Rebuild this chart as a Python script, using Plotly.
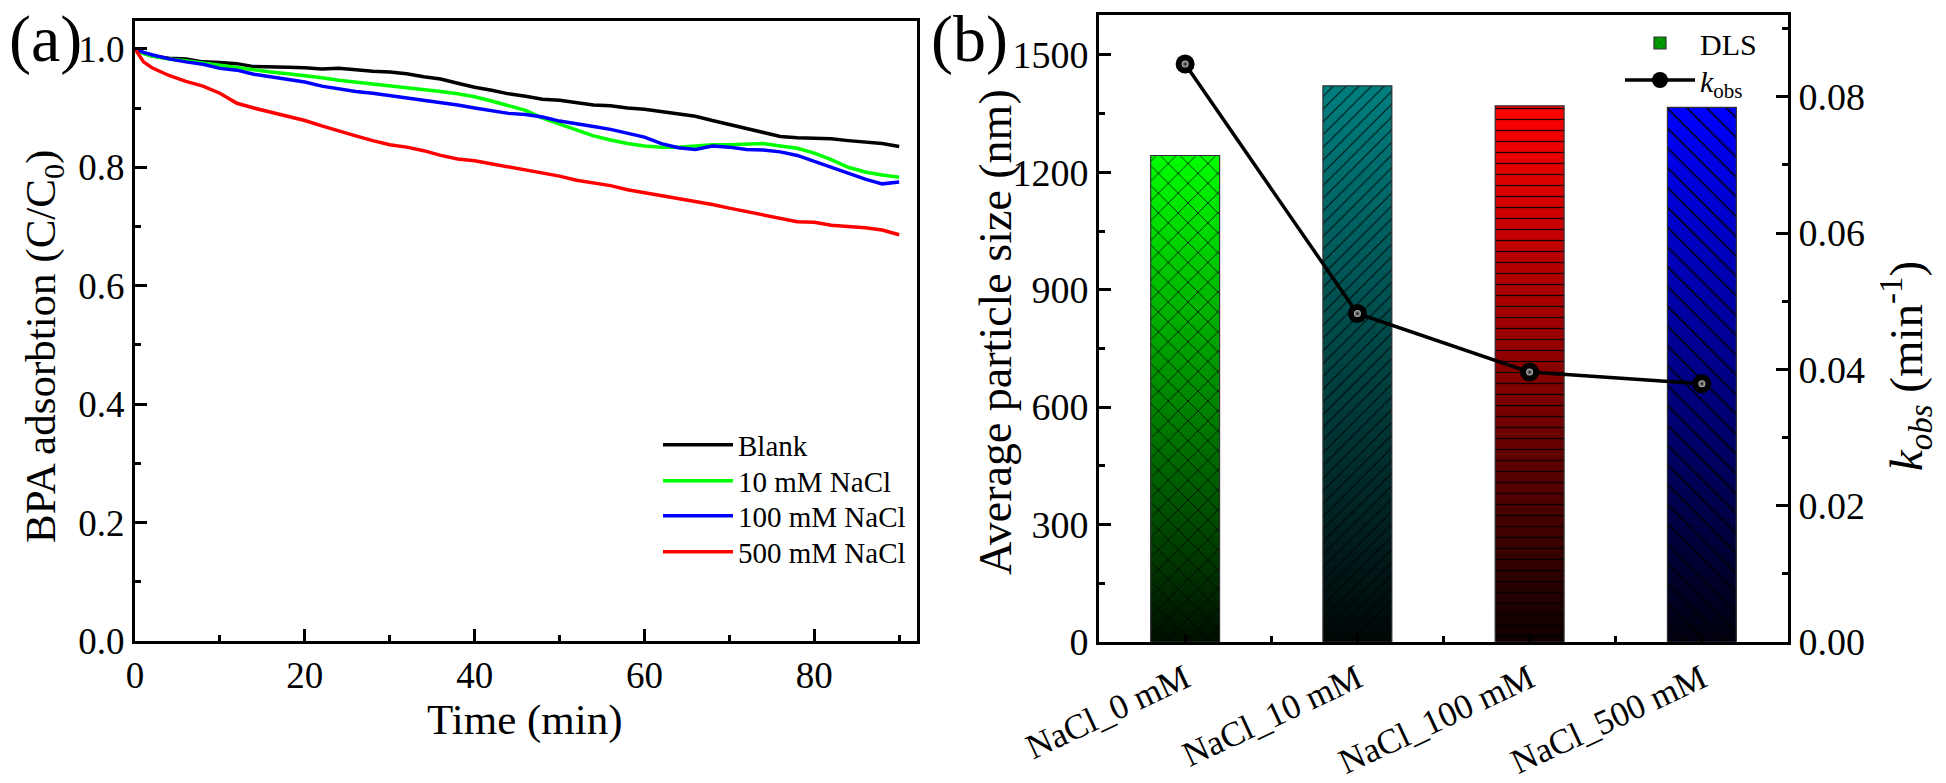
import plotly.graph_objects as go

# ---------------- data: panel (a) ----------------
time_min = [0, 1, 2, 4, 6, 8, 10, 12, 14, 16, 18, 20, 22, 24, 26, 28, 30, 32, 34, 36, 38, 40,
            42, 44, 46, 48, 50, 52, 54, 56, 58, 60, 62, 64, 66, 68, 70, 72, 74, 76, 78, 80,
            82, 84, 86, 88, 90]
blank = [1.000, 0.993, 0.988, 0.984, 0.983, 0.978, 0.977, 0.975, 0.970, 0.970, 0.969, 0.968,
         0.966, 0.967, 0.964, 0.962, 0.961, 0.958, 0.953, 0.949, 0.942, 0.935, 0.930, 0.924,
         0.920, 0.915, 0.913, 0.909, 0.905, 0.904, 0.900, 0.898, 0.894, 0.890, 0.886, 0.879,
         0.872, 0.866, 0.858, 0.852, 0.850, 0.849, 0.848, 0.845, 0.843, 0.840, 0.835]
nacl_10 = [1.000, 0.992, 0.988, 0.983, 0.980, 0.976, 0.973, 0.969, 0.964, 0.961, 0.958, 0.955,
           0.951, 0.947, 0.944, 0.941, 0.938, 0.935, 0.931, 0.928, 0.924, 0.919, 0.912, 0.904,
           0.896, 0.883, 0.873, 0.864, 0.853, 0.846, 0.840, 0.836, 0.834, 0.834, 0.836, 0.838,
           0.838, 0.839, 0.840, 0.836, 0.832, 0.824, 0.813, 0.800, 0.792, 0.787, 0.783]
nacl_100 = [1.000, 0.994, 0.990, 0.983, 0.978, 0.974, 0.967, 0.964, 0.957, 0.953, 0.949, 0.944,
            0.937, 0.932, 0.928, 0.925, 0.921, 0.917, 0.913, 0.910, 0.905, 0.900, 0.895, 0.891,
            0.889, 0.885, 0.878, 0.874, 0.869, 0.864, 0.858, 0.851, 0.840, 0.833, 0.830, 0.836,
            0.834, 0.830, 0.829, 0.826, 0.820, 0.810, 0.800, 0.790, 0.780, 0.772, 0.775]
nacl_500 = [1.000, 0.978, 0.968, 0.955, 0.945, 0.937, 0.925, 0.908, 0.900, 0.893, 0.885, 0.879,
            0.870, 0.861, 0.853, 0.845, 0.838, 0.834, 0.828, 0.820, 0.814, 0.811, 0.806, 0.800,
            0.795, 0.790, 0.785, 0.778, 0.773, 0.769, 0.762, 0.757, 0.752, 0.748, 0.743, 0.737,
            0.731, 0.725, 0.719, 0.713, 0.708, 0.707, 0.702, 0.700, 0.698, 0.694, 0.686]
series_names = ["Blank", "10 mM NaCl", "100 mM NaCl", "500 mM NaCl"]
series_colors = ["#000000", "#00ff00", "#0000ff", "#ff0000"]

# ---------------- data: panel (b) ----------------
categories = ["NaCl_0 mM", "NaCl_10 mM", "NaCl_100 mM", "NaCl_500 mM"]
particle_size = [1243, 1421, 1370, 1366]
k_obs = [0.0848, 0.0482, 0.0396, 0.0379]
bar_colors = [(0, 255, 0), (0, 128, 128), (255, 0, 0), (0, 0, 255)]
bar_patterns = ["x", "/", "-", "\\"]
pattern_sizes = [14, 9, 11, 14]

FONT = "Liberation Serif"
W, H = 1946, 783


def px2x(px):
    return px / W


def px2y(py):
    return 1 - py / H


fig = go.Figure()

# panel (a) lines, each with its own legend box
legend_a_y = [445, 481, 516, 552]
for i, (name, vals, col) in enumerate(zip(series_names, [blank, nacl_10, nacl_100, nacl_500],
                                          series_colors)):
    fig.add_trace(go.Scatter(x=time_min, y=vals, mode="lines", name=name,
                             line=dict(color=col, width=3.5), xaxis="x", yaxis="y",
                             legend="legend" if i == 0 else f"legend{i+1}"))

# panel (b) gradient bars: each bar split into overlapping slices, dark at the bottom
N = 60
seg_x, seg_y, seg_base, seg_col = [], [], [], []
for k in range(N):
    f = 0.06 + 0.94 * (k + 0.5) / N
    for cat, h, (r, g, b) in zip(categories, particle_size, bar_colors):
        base = k * h / N
        seg_x.append(cat)
        seg_y.append(min(1.8 * h / N, h - base))
        seg_base.append(base)
        seg_col.append(f"rgb({int(r*f)},{int(g*f)},{int(b*f)})")
fig.add_trace(go.Bar(x=seg_x, y=seg_y, base=seg_base, width=0.4,
                     marker=dict(color=seg_col, line=dict(width=0)),
                     xaxis="x2", yaxis="y2", showlegend=False, hoverinfo="skip"))

# hatch overlay + outline
fig.add_trace(go.Bar(x=categories, y=particle_size, width=0.4,
                     marker=dict(color="rgba(0,0,0,0)",
                                 line=dict(color="#333333", width=1.2),
                                 pattern=dict(shape=bar_patterns, size=pattern_sizes,
                                              solidity=0.12, fgcolor="#000000",
                                              fgopacity=0.85)),
                     xaxis="x2", yaxis="y2", showlegend=False))

# legend-only entry for DLS
fig.add_trace(go.Bar(x=[categories[0]], y=[None], name="DLS", width=0.4,
                     marker=dict(color="#00a000", line=dict(color="#333333", width=1.2),
                                 pattern=dict(shape="x", size=6, solidity=0.15,
                                              fgcolor="#000000")),
                     xaxis="x2", yaxis="y2", legend="legend5"))

# k_obs line with ball markers
fig.add_trace(go.Scatter(x=categories, y=k_obs, mode="lines+markers",
                         name="<i>k</i><sub>obs</sub>",
                         line=dict(color="#000000", width=3.5),
                         marker=dict(size=19, color="#000000", line=dict(width=0)),
                         xaxis="x2", yaxis="y3", legend="legend6"))
fig.add_trace(go.Scatter(x=categories, y=k_obs, mode="markers", showlegend=False,
                         marker=dict(size=7, color="#bdbdbd",
                                     gradient=dict(type="radial", color="#1a1a1a"),
                                     line=dict(width=0)),
                         xaxis="x2", yaxis="y3", hoverinfo="skip"))

# empty trace so the minor-tick helper axis is drawn
fig.add_trace(go.Scatter(x=[None], y=[None], xaxis="x3", yaxis="y2", showlegend=False,
                         hoverinfo="skip"))

tick_a = dict(family=FONT, size=37, color="black")
tick_b = dict(family=FONT, size=38, color="black")
common = dict(showline=True, linewidth=3, linecolor="black", mirror=True,
              showgrid=False, zeroline=False, ticks="inside", tickwidth=2.5,
              tickcolor="black")
minor_style = dict(ticklen=6, ticks="inside", tickwidth=2.5, tickcolor="black")


def legend_box(x, y, size):
    return dict(x=px2x(x), y=px2y(y), xanchor="left", yanchor="middle",
                bgcolor="rgba(0,0,0,0)", font=dict(family=FONT, size=size),
                itemwidth=70, borderwidth=0)


layout_legends = {}
for i, yy in enumerate(legend_a_y):
    key = "legend" if i == 0 else f"legend{i+1}"
    layout_legends[key] = legend_box(658, yy, 29)
layout_legends["legend5"] = legend_box(1620, 43, 30)
layout_legends["legend6"] = legend_box(1620, 80, 30)

fig.update_layout(
    width=W, height=H, margin=dict(l=0, r=0, t=0, b=0, autoexpand=False),
    paper_bgcolor="white", plot_bgcolor="white",
    barmode="overlay",
    font=dict(family=FONT, color="black"),
    xaxis=dict(domain=[px2x(135), px2x(917)], range=[0, 92.1], dtick=20, tick0=0,
               ticklen=12, minor=dict(dtick=10, **minor_style), tickfont=tick_a,
               anchor="y", **common),
    yaxis=dict(domain=[px2y(641), px2y(21)], range=[0, 1.047], dtick=0.2, tick0=0,
               tickformat=".1f", ticklen=12, minor=dict(dtick=0.1, **minor_style),
               tickfont=tick_a, anchor="x", **common),
    xaxis2=dict(domain=[px2x(1099), px2x(1788)], type="category", range=[-0.5, 3.5],
                tickangle=-25, ticklen=8, tickfont=dict(family=FONT, size=35, color="black"),
                anchor="y2", **common),
    xaxis3=dict(overlaying="x2", anchor="y2", side="bottom", range=[-0.5, 3.5],
                tickvals=[0.5, 1.5, 2.5], ticks="inside", ticklen=6, tickwidth=2.5,
                tickcolor="black", showticklabels=False, showline=False,
                showgrid=False, zeroline=False),
    yaxis2=dict(domain=[px2y(642), px2y(15)], range=[0, 1602], dtick=300, tick0=0,
                ticklen=12, minor=dict(dtick=150, **minor_style), tickfont=tick_b,
                anchor="x2", **common),
    yaxis3=dict(overlaying="y2", side="right", anchor="x2", range=[0, 0.092],
                dtick=0.02, tick0=0, tickformat=".2f", ticklen=12,
                minor=dict(dtick=0.01, **minor_style),
                showline=True, linewidth=3, linecolor="black", showgrid=False,
                zeroline=False, ticks="inside", tickwidth=2.5, tickcolor="black",
                tickfont=tick_b),
    **layout_legends,
)

for txt, x in [("(a)", 45), ("(b)", 969)]:
    fig.add_annotation(text=txt, x=px2x(x), y=1, xref="paper", yref="paper",
                       showarrow=False, font=dict(family=FONT, size=66),
                       xanchor="center", yanchor="top")

titles = [
    ("BPA adsorbtion (C/C<sub>0</sub>)", 44, 347, -90, 43),
    ("Time (min)", 525, 720, 0, 43),
    ("Average particle size (nm)", 995, 332, -90, 46),
    ("<i>k<sub>obs</sub></i> (min<sup>-1</sup>)", 1906, 366, -90, 47),
]
for txt, x, y, ang, sz in titles:
    fig.add_annotation(text=txt, x=px2x(x), y=px2y(y), xref="paper", yref="paper",
                       showarrow=False, textangle=ang, font=dict(family=FONT, size=sz),
                       xanchor="center", yanchor="middle")

fig.write_html("out.html", config={"displayModeBar": False},
               post_script="document.body.style.margin='0';")
